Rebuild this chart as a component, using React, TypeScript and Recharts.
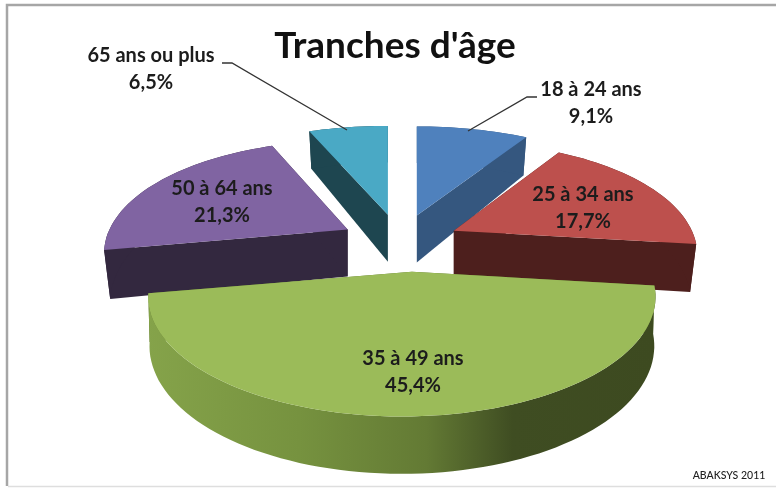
import { PieChart, Pie, Cell } from 'recharts'

const categories = ['50 à 64 ans', '65 ans ou plus', '18 à 24 ans', '25 à 34 ans', '35 à 49 ans']
const shares = [21.3, 6.5, 9.1, 17.7, 45.4]
const percentLabels = ['21,3%', '6,5%', '9,1%', '17,7%', '45,4%']

const topColors = ['#8064a2', '#4aa9c5', '#4f81bd', '#bd504d', '#9bbb59']
const wallColors = ['#33283f', '#1e4650', '#35577f', '#4d1f1d', 'url(#greenRim)']

// hand fitting of each slice against the picture
// low = the bottom edge of the walls is a little narrower than the top
const sliceFit = [
  { rx: 0.96, ry: 1, apexX: 0, low: 0.975 },
  { rx: 1, ry: 1, apexX: 0, low: 0.975 },
  { rx: 1, ry: 1, apexX: 0, low: 0.975 },
  { rx: 0.96, ry: 1, apexX: 0, low: 0.975 },
  { rx: 1, ry: 1.04, apexX: 10, low: 0.995 },
]

// label centres, in page pixels
const labelSpots = [
  { x: 222, y: 190 },
  { x: 151, y: 57 },
  { x: 591, y: 91 },
  { x: 583, y: 196 },
  { x: 413, y: 360 },
]
const leaders: Record<number, string> = {
  1: '222,63 232,63 347,130',
  2: '537,97 527,97 468,131',
}

const data = categories.map((name, i) => ({ name, value: shares[i] }))

const RAD = Math.PI / 180
const TILT = 0.46 // ry / rx of the disc
const PERSP = 0.22 // front of the disc is bigger than the back
const EXPLODE = 0.24
const DEPTH = 47

// first slice starts so that the 18-24 slice sits at 12 o'clock
const START = 90 + (360 * (shares[0] + shares[1])) / 100

function SliceShape(props: any) {
  const { cx, cy, outerRadius: r, startAngle, endAngle, midAngle, fill, index } = props
  const fit = sliceFit[index]
  const ax = cx + r * EXPLODE * Math.cos(midAngle * RAD)
  const ay = cy - r * TILT * EXPLODE * 1.05 * Math.sin(midAngle * RAD)

  const point = (angle: number, z = 0) => {
    const u = Math.cos(angle * RAD)
    const v = -Math.sin(angle * RAD)
    const s = 1 + PERSP * v
    const shrink = z > 0 ? fit.low : 1
    return [ax + r * fit.rx * u * s * shrink, ay + r * TILT * fit.ry * v * s + z * s]
  }
  const arc = (z = 0) => {
    const pts: number[][] = []
    const n = Math.ceil(Math.abs(endAngle - startAngle) / 2)
    for (let i = 0; i <= n; i++) pts.push(point(startAngle + ((endAngle - startAngle) * i) / n, z))
    return pts
  }
  const d = (pts: number[][]) =>
    'M' + pts.map((p) => p[0].toFixed(1) + ',' + p[1].toFixed(1)).join('L') + 'Z'

  const top = arc()
  const low = arc(DEPTH)
  const apex = [ax + fit.apexX, ay]
  const apexLow = [ax + fit.apexX, ay + DEPTH]
  const wall = wallColors[index]
  const edgeColor = wall.startsWith('url') ? '#5d7330' : wall

  return (
    <g>
      <path d={d([apex, top[0], low[0], apexLow])} fill={edgeColor} />
      <path d={d([apex, top[top.length - 1], low[low.length - 1], apexLow])} fill={edgeColor} />
      <path d={d([...top, ...low.slice().reverse()])} fill={wall} />
      <path d={d([apex, ...top])} fill={fill} />
    </g>
  )
}

function SliceLabel(props: any) {
  const { index } = props
  const spot = labelSpots[index]
  const textStyle = { fontFamily: 'Lato', fontWeight: 700, fontSize: 20, fill: '#1c1c1c' }
  return (
    <g>
      {leaders[index] && <polyline points={leaders[index]} fill="none" stroke="#333" strokeWidth={1.3} />}
      <text x={spot.x} y={spot.y} textAnchor="middle" dominantBaseline="middle" style={textStyle}>
        {categories[index]}
      </text>
      <text x={spot.x} y={spot.y + 26.5} textAnchor="middle" dominantBaseline="middle" style={textStyle}>
        {percentLabels[index]}
      </text>
    </g>
  )
}

export default function App() {
  return (
    <div style={{ position: 'fixed', left: 0, top: 0, width: 776, height: 488, background: '#fff' }}>
      <PieChart width={776} height={488} margin={{ top: 0, right: 0, bottom: 0, left: 0 }} style={{ filter: 'blur(0.4px)' }}>
        <defs>
          <linearGradient id="greenRim" gradientUnits="userSpaceOnUse" x1={147} y1={0} x2={655} y2={0}>
            <stop offset="0" stopColor="#85a34a" />
            <stop offset="0.3" stopColor="#76923f" />
            <stop offset="0.55" stopColor="#637a34" />
            <stop offset="0.72" stopColor="#3f4d22" />
            <stop offset="1" stopColor="#3d4a20" />
          </linearGradient>
        </defs>
        <path d="M776,5H7V486" fill="none" stroke="#a6a6a6" strokeWidth={2.5} />
        <path d="M8,486.5H776" fill="none" stroke="#dedede" strokeWidth={1.5} />
        <text x={395} y={49} textAnchor="middle" dominantBaseline="middle"
          style={{ fontFamily: 'Lato', fontWeight: 700, fontSize: 37, fill: '#111' }}>
          Tranches d'âge
        </text>
        <text x={729} y={476} textAnchor="middle" dominantBaseline="middle"
          style={{ fontFamily: 'Lato', fontWeight: 500, fontSize: 10.5, fill: '#222' }}>
          ABAKSYS 2011
        </text>
        <Pie
          data={data}
          dataKey="value"
          nameKey="name"
          cx={400}
          cy={243}
          outerRadius={248}
          startAngle={START}
          endAngle={START - 360}
          stroke="none"
          shape={SliceShape}
          label={SliceLabel}
          labelLine={false}
          isAnimationActive={false}
        >
          {data.map((row, i) => (
            <Cell key={row.name} fill={topColors[i]} />
          ))}
        </Pie>
      </PieChart>
    </div>
  )
}
